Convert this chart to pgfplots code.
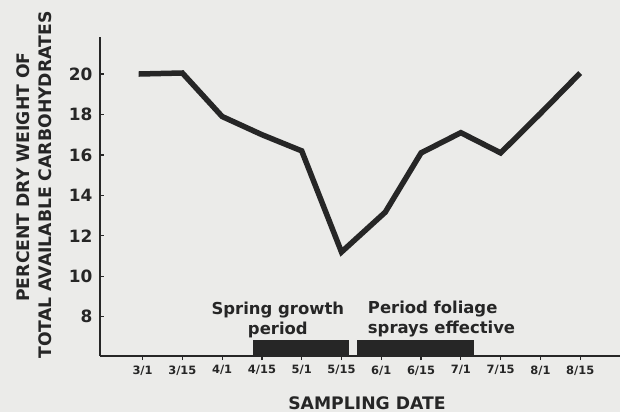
\documentclass[border=0pt]{standalone}
\usepackage{pgfplots}
\pgfplotsset{compat=1.18}
\usepackage{fontspec}
\setmainfont{DejaVu Sans}
\definecolor{bg}{RGB}{235,235,233}
\definecolor{ink}{RGB}{38,38,38}
\begin{document}
\begin{tikzpicture}
\useasboundingbox (0,0) rectangle (620bp,412bp);
\fill[bg] (0,0) rectangle (620bp,412bp);
\begin{axis}[
  at={(100bp,56bp)}, anchor=south west,
  scale only axis, width=520bp, height=319bp,
  xmin=-1.07, xmax=12.0, ymin=6.06, ymax=21.83,
  axis x line=bottom, axis y line=left,
  axis line style={-, ink, line width=1.6bp},
  xtick={0,...,11},
  xticklabels={3/1,3/15,4/1,4/15,5/1,5/15,6/1,6/15,7/1,7/15,8/1,8/15},
  ytick={8,10,...,20},
  tick align=outside,
  major tick length=4bp,
  tick style={ink, line width=1.2bp},
  y tick style={xshift=4bp},
  /pgf/number format/assume math mode=true,
  xticklabel style={font=\bfseries\fontsize{11.5}{14}\selectfont, text=ink, yshift=-2bp},
  yticklabel style={font=\bfseries\fontsize{17}{20}\selectfont, text=ink, xshift=0bp},
  clip=false,
]
\addplot[fill=ink, draw=none] coordinates {(2.77,6.06) (2.77,6.85) (5.18,6.85) (5.18,6.06)} -- cycle;
\addplot[fill=ink, draw=none] coordinates {(5.38,6.06) (5.38,6.85) (8.32,6.85) (8.32,6.06)} -- cycle;
\addplot[ink, line width=5.5bp, mark=none] coordinates {
  (-0.1,20.0) (1,20.05) (2,17.9) (3,17.0) (4,16.2) (5,11.2) (6.1,13.17)
  (7,16.1) (8,17.1) (9,16.1) (10,18.05) (11,20.05)
};
\node[anchor=base, inner sep=0, text=ink, font=\bfseries\fontsize{16.5}{20}\selectfont] at (axis cs:3.4,8.13) {Spring growth};
\node[anchor=base, inner sep=0, text=ink, font=\bfseries\fontsize{16.5}{20}\selectfont] at (axis cs:3.4,7.13) {period};
\node[anchor=base west, inner sep=0, text=ink, font=\bfseries\fontsize{16.5}{20}\selectfont] at (axis cs:5.66,8.18) {Period foliage};
\node[anchor=base west, inner sep=0, text=ink, font=\bfseries\fontsize{16.5}{20}\selectfont] at (axis cs:5.66,7.18) {sprays effective};
\end{axis}
\node[anchor=base, inner sep=0, text=ink, font=\bfseries\fontsize{17.3}{22}\selectfont] at (367bp,3bp) {SAMPLING DATE};
\node[rotate=90, anchor=base, inner sep=0, text=ink, font=\bfseries\fontsize{17.3}{22}\selectfont] at (29bp,235bp) {PERCENT DRY WEIGHT OF};
\node[rotate=90, anchor=base, inner sep=0, text=ink, font=\bfseries\fontsize{17.3}{22}\selectfont] at (51bp,227bp) {TOTAL AVAILABLE CARBOHYDRATES};
\end{tikzpicture}
\end{document}
